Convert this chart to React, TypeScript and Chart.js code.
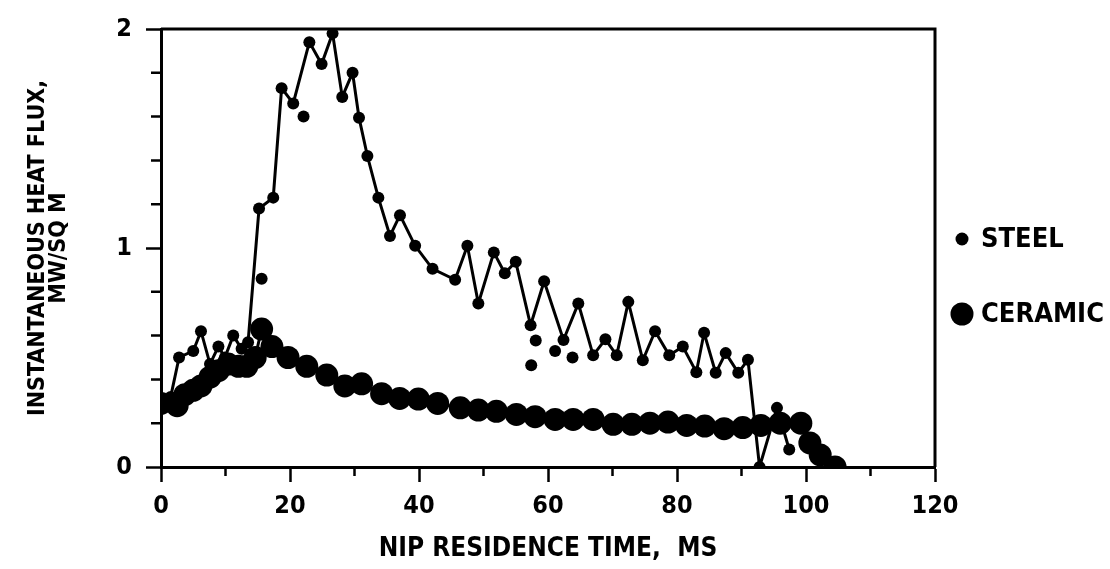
import React, { useEffect, useRef } from 'react';
import { Chart, registerables } from 'chart.js';

Chart.register(...registerables);

// ---- data ----
const steelTime = [1.5, 2.8, 5.0, 6.2, 7.6, 8.9, 9.9, 11.2, 12.5, 13.5, 15.2, 17.4, 18.7, 20.5, 23.0, 24.9, 26.6, 28.1, 29.7, 30.7, 32.0, 33.7, 35.5, 37.05, 39.4, 42.1, 45.6, 47.5, 49.2, 51.6, 53.3, 55.0, 57.3, 59.4, 62.4, 64.7, 67.0, 68.9, 70.65, 72.45, 74.7, 76.6, 78.8, 80.9, 83.0, 84.2, 86.0, 87.55, 89.5, 91.0, 92.8, 95.5, 97.4];
const steelFlux = [0.32, 0.50, 0.53, 0.62, 0.47, 0.55, 0.50, 0.60, 0.54, 0.57, 1.18, 1.23, 1.73, 1.66, 1.94, 1.84, 1.98, 1.69, 1.80, 1.595, 1.42, 1.23, 1.055, 1.15, 1.01, 0.905, 0.855, 1.01, 0.747, 0.98, 0.885, 0.937, 0.647, 0.848, 0.58, 0.747, 0.51, 0.583, 0.51, 0.754, 0.487, 0.62, 0.51, 0.55, 0.433, 0.613, 0.43, 0.52, 0.43, 0.49, 0.0, 0.27, 0.08];

const steelExtraTime = [15.6, 22.1, 57.4, 58.1, 61.1, 63.8];
const steelExtraFlux = [0.86, 1.60, 0.465, 0.578, 0.53, 0.50];

const ceramicTime = [0, 2.5, 3.7, 5.0, 6.2, 7.6, 8.9, 10.4, 12.0, 13.3, 14.6, 15.6, 17.2, 19.7, 22.6, 25.7, 28.5, 31.1, 34.2, 37.0, 39.9, 42.9, 46.4, 49.2, 52.0, 55.1, 58.0, 61.1, 63.9, 67.0, 70.1, 73.0, 75.8, 78.6, 81.5, 84.3, 87.3, 90.2, 93.0, 96.0, 99.2, 100.6, 102.2, 104.5];
const ceramicFlux = [0.29, 0.28, 0.33, 0.35, 0.37, 0.41, 0.44, 0.47, 0.46, 0.46, 0.50, 0.63, 0.55, 0.50, 0.46, 0.42, 0.37, 0.38, 0.335, 0.313, 0.31, 0.29, 0.27, 0.26, 0.254, 0.24, 0.23, 0.217, 0.217, 0.217, 0.195, 0.195, 0.20, 0.205, 0.19, 0.187, 0.175, 0.18, 0.19, 0.20, 0.20, 0.11, 0.055, 0.0];

const seriesNames = ['STEEL', 'CERAMIC'];
const xTitle = 'NIP RESIDENCE TIME,  MS';
const yTitle = ['INSTANTANEOUS HEAT FLUX,', 'MW/SQ M'];
const xMajorTicks = [0, 20, 40, 60, 80, 100, 120];
const xMinorTicks = [10, 30, 50, 70, 90, 110];
const yMajorTicks = [0, 1, 2];
const yMinorTicks = [0.2, 0.4, 0.6, 0.8, 1.2, 1.4, 1.6, 1.8];

const FONT = "'Liberation Sans Narrow', 'Arial Narrow', 'DejaVu Sans Condensed', 'Liberation Sans', sans-serif";

const toPoints = (xs: number[], ys: number[]) => xs.map((x, i) => ({ x, y: ys[i] }));

const framePlugin = {
  id: 'frameMinorLegend',
  afterDraw(chart: any) {
    const { ctx, chartArea: a, scales } = chart;
    ctx.save();
    ctx.strokeStyle = '#000';
    ctx.fillStyle = '#000';
    ctx.lineWidth = 3;
    ctx.beginPath();
    ctx.moveTo(a.left, a.top);
    ctx.lineTo(a.right, a.top);
    ctx.lineTo(a.right, a.bottom);
    ctx.stroke();

    ctx.lineWidth = 2.5;
    ctx.beginPath();
    for (const v of xMinorTicks) {
      const px = scales.x.getPixelForValue(v);
      ctx.moveTo(px, a.bottom);
      ctx.lineTo(px, a.bottom + 9);
    }
    for (const v of yMinorTicks) {
      const py = scales.y.getPixelForValue(v);
      ctx.moveTo(a.left, py);
      ctx.lineTo(a.left - 10, py);
    }
    ctx.stroke();

    // legend
    const mid = (a.top + a.bottom) / 2;
    const items = [
      { name: seriesNames[0], r: 6.5, y: mid - 9 },
      { name: seriesNames[1], r: 11.5, y: mid + 66 },
    ];
    ctx.font = `bold 27px ${FONT}`;
    ctx.textBaseline = 'middle';
    ctx.textAlign = 'left';
    for (const it of items) {
      ctx.beginPath();
      ctx.arc(a.right + 27, it.y, it.r, 0, Math.PI * 2);
      ctx.fill();
      ctx.fillText(it.name, a.right + 46, it.y + 1);
    }
    ctx.restore();
  },
};

export default function App() {
  const ref = useRef<HTMLCanvasElement | null>(null);

  useEffect(() => {
    if (!ref.current) return;
    const chart = new Chart(ref.current, {
      type: 'line',
      data: {
        datasets: [
          {
            label: seriesNames[0],
            data: toPoints(steelTime, steelFlux),
            borderColor: '#000',
            backgroundColor: '#000',
            borderWidth: 3,
            pointRadius: 6,
            pointBorderWidth: 0,
            pointBackgroundColor: '#000',
            tension: 0,
          },
          {
            label: seriesNames[0] + ' (other)',
            data: toPoints(steelExtraTime, steelExtraFlux),
            showLine: false,
            borderColor: '#000',
            backgroundColor: '#000',
            pointRadius: 6,
            pointBorderWidth: 0,
          },
          {
            label: seriesNames[1],
            data: toPoints(ceramicTime, ceramicFlux),
            borderColor: '#000',
            backgroundColor: '#000',
            borderWidth: 3,
            pointRadius: 11.5,
            pointBorderWidth: 0,
            pointBackgroundColor: '#000',
            tension: 0,
          },
        ],
      },
      options: {
        animation: false,
        responsive: true,
        maintainAspectRatio: false,
        layout: { padding: { top: 18, right: 175, left: 0, bottom: 0 } },
        plugins: { legend: { display: false }, tooltip: { enabled: false } },
        scales: {
          x: {
            type: 'linear',
            min: 0,
            max: 120,
            afterFit: (s: any) => { s.height = 102; },
            afterBuildTicks: (s: any) => { s.ticks = xMajorTicks.map((v) => ({ value: v })); },
            border: { display: true, color: '#000', width: 3 },
            grid: { drawOnChartArea: false, drawTicks: true, tickLength: 15, tickWidth: 2.5, tickColor: '#000' },
            ticks: { color: '#000', padding: 9, maxRotation: 0, font: { family: FONT, size: 25, weight: 'bold' } },
            title: { display: true, text: xTitle, color: '#000', padding: { top: 8, bottom: 4 }, font: { family: FONT, size: 26, weight: 'bold' } },
          },
          y: {
            type: 'linear',
            min: 0,
            max: 2,
            afterFit: (s: any) => { s.width = 161; },
            afterBuildTicks: (s: any) => { s.ticks = yMajorTicks.map((v) => ({ value: v })); },
            border: { display: true, color: '#000', width: 3 },
            grid: { drawOnChartArea: false, drawTicks: true, tickLength: 15, tickWidth: 2.5, tickColor: '#000' },
            ticks: { color: '#000', padding: 14, font: { family: FONT, size: 25, weight: 'bold' } },
            title: { display: true, text: yTitle, color: '#000', padding: { top: 28, bottom: 0 }, font: { family: FONT, size: 23, weight: 'bold', lineHeight: 0.9 } },
          },
        },
      },
      plugins: [framePlugin],
    } as any);
    return () => chart.destroy();
  }, []);

  return (
    <div style={{ position: 'fixed', left: 0, top: 0, width: 1110, height: 569, background: '#fff' }}>
      <canvas ref={ref} />
    </div>
  );
}
